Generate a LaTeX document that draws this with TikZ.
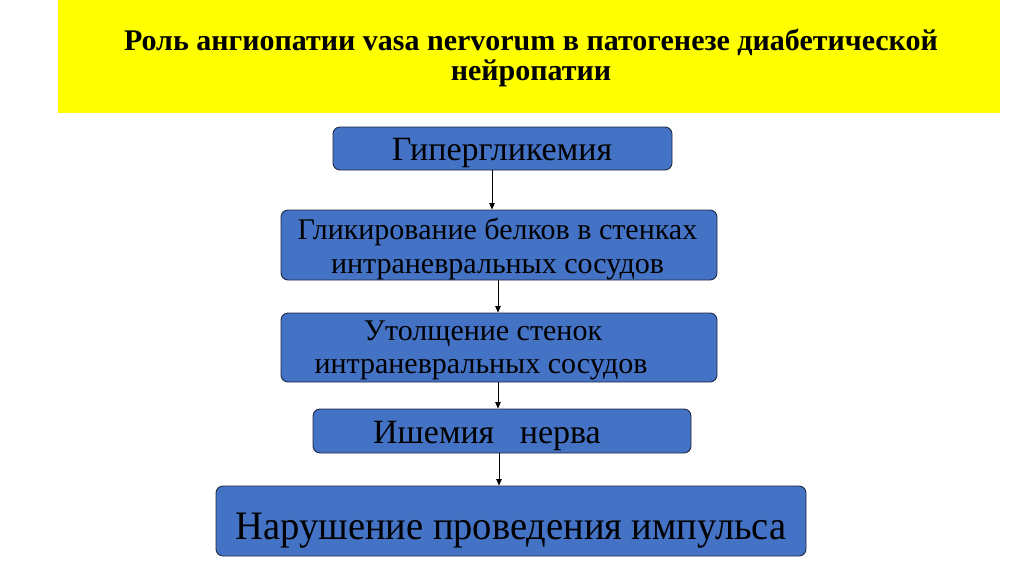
\documentclass[tikz,border=0pt]{standalone}
\usepackage{fontspec}
\usepackage{graphicx}
\setmainfont{Liberation Serif}
\usetikzlibrary{arrows.meta}
\definecolor{boxblue}{HTML}{4472C4}
\definecolor{boxedge}{HTML}{1F2A44}
\definecolor{titleyellow}{HTML}{FFFF00}
\begin{document}
\begin{tikzpicture}[x=1pt,y=-1pt,
  flowbox/.style={draw=boxedge,line width=0.9pt,fill=boxblue,rounded corners=7pt,inner sep=0pt},
  lbl/.style={anchor=base,inner sep=0pt},
  conn/.style={draw=black,line width=0.8pt,-{Triangle[length=6.5pt,width=5.5pt]}}]
\useasboundingbox (0,0) rectangle (1024,574);
\fill[white] (0,0) rectangle (1024,574);
\node[fill=titleyellow,minimum width=942pt,minimum height=113pt,inner sep=0pt] (band) at (529,56.5) {};
\node[lbl,font=\bfseries\fontsize{30}{30}\selectfont] (title1) at (531,50)
  {Роль ангиопатии vasa nervorum в патогенезе диабетической};
\node[lbl,font=\bfseries\fontsize{30}{30}\selectfont] (title2) at (531,80)
  {нейропатии};
\node[flowbox,minimum width=339pt,minimum height=43pt] (b1) at (502.5,148.5) {};
\node[lbl,font=\fontsize{34}{34}\selectfont] (t1) at (502,160) {Гипергликемия};
\node[flowbox,minimum width=436pt,minimum height=70pt] (b2) at (499,245) {};
\node[lbl,font=\fontsize{30}{30}\selectfont] (t2a) at (497.5,239.5) {Гликирование белков в стенках};
\node[lbl,font=\fontsize{30}{30}\selectfont] (t2b) at (497.5,273.5) {интраневральных сосудов};
\node[flowbox,minimum width=436pt,minimum height=69pt] (b3) at (499,347.5) {};
\node[lbl,font=\fontsize{30}{30}\selectfont] (t3a) at (483,340) {Утолщение стенок};
\node[lbl,font=\fontsize{30}{30}\selectfont] (t3b) at (481,373.5) {интраневральных сосудов};
\node[flowbox,minimum width=378pt,minimum height=44pt] (b4) at (502,431) {};
\node[lbl,font=\fontsize{34}{34}\selectfont] (t4) at (487,443.5) {Ишемия\ \ \ нерва};
\node[flowbox,minimum width=590pt,minimum height=70pt] (b5) at (511,521) {};
\node[lbl,font=\fontsize{38.5}{38.5}\selectfont] (t5) at (511,539.5) {\scalebox{1}[1.05]{Нарушение проведения импульса}};
\draw[conn] (b1.south -| 492,0) -- (b2.north -| 492,0);
\draw[conn] (b2.south -| 498,0) -- (b3.north -| 498,0);
\draw[conn] (b3.south -| 498,0) -- (b4.north -| 498,0);
\draw[conn] (b4.south -| 499,0) -- (b5.north -| 499,0);
\end{tikzpicture}
\end{document}
